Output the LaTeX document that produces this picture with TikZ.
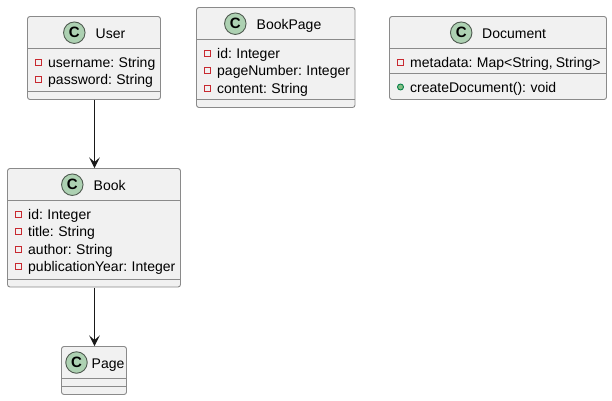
\documentclass[tikz,border=0pt]{standalone}
\usepackage{fontspec}
\setmainfont[WordSpace=0.8]{Liberation Sans}
\usetikzlibrary{arrows.meta}
\definecolor{boxfill}{HTML}{F1F1F1}
\definecolor{boxline}{HTML}{8A8A8A}
\definecolor{spotfill}{HTML}{ADD1B2}
\definecolor{spotline}{HTML}{4F5A50}
\definecolor{privred}{HTML}{C82930}
\definecolor{pubgreen}{HTML}{84BE84}
\definecolor{publine}{HTML}{038048}
\tikzset{
  classbox/.style={draw=boxline,fill=boxfill,line width=0.9pt,rounded corners=2.5pt,inner sep=0,outer sep=0,anchor=north west},
  divider/.style={draw=boxline,line width=0.9pt},
  spot/.style={circle,draw=spotline,fill=spotfill,line width=0.9pt,minimum size=21.5pt,inner sep=0,font=\fontsize{15}{15}\selectfont\bfseries},
  classname/.style={anchor=base west,inner sep=0,font=\fontsize{14}{14}\selectfont,text=black},
  member/.style={anchor=base west,inner sep=0,font=\fontsize{14}{14}\selectfont,text=black},
  privmark/.style={draw=privred,line width=1.1pt,minimum size=6.4pt,inner sep=0,fill=none},
  pubmark/.style={circle,draw=publine,fill=pubgreen,line width=0.9pt,minimum size=6pt,inner sep=0},
  assoc/.style={draw=black!90,line width=1pt,-{Stealth[length=10.5pt,width=10.5pt,inset=4.5pt]}}
}
% #1 name, #2 left, #3 top, #4 width, #5 height
\newcommand{\classframe}[5]{\node[classbox,minimum width=#4pt,minimum height=#5pt] (#1) at (#2,#3) {};}
\newcommand{\privrow}[5]{\node[privmark] (#1m) at (#2,#3+0.5) {};\node[member] (#1) at (#4,#3+5.2) {#5};}
\begin{document}
\begin{tikzpicture}[x=1pt,y=-1pt]
\useasboundingbox (0,0) rectangle (612,400);
\fill[white] (0,0) rectangle (612,400);
% User
\classframe{user}{27.5}{16.5}{133}{83}
\node[spot] (userspot) at (74.3,32.7) {C};
\node[classname] (username) at (95.5,38.2) {User};
\draw[divider] (27.5,48.5) -- (160.5,48.5);
\draw[divider] (27.5,91.5) -- (160.5,91.5);
\privrow{ua}{38.5}{62}{48}{username: String}
\privrow{ub}{38.5}{79}{48}{password: String}
% BookPage
\classframe{bookpage}{196.5}{7.5}{158.5}{100}
\node[spot] (bookpagespot) at (235.3,23.7) {C};
\node[classname] (bookpagename) at (256.5,29.2) {BookPage};
\draw[divider] (196.5,39.5) -- (355,39.5);
\draw[divider] (196.5,99.5) -- (355,99.5);
\privrow{pa}{207.5}{53}{217}{id: Integer}
\privrow{pb}{207.5}{70}{217}{pageNumber: Integer}
\privrow{pc}{207.5}{88}{217}{content: String}
% Document
\classframe{document}{389.5}{16.5}{217}{83}
\node[spot] (documentspot) at (461.2,32.7) {C};
\node[classname] (documentname) at (482,38.2) {Document};
\draw[divider] (389.5,48.5) -- (606.5,48.5);
\draw[divider] (389.5,73.5) -- (606.5,73.5);
\privrow{da}{400.5}{62}{410}{metadata: Map<String, String>}
\node[pubmark] (dbm) at (400.5,87) {};
\node[member] (db) at (410,92) {createDocument(): void};
% Book
\classframe{book}{7.5}{168.5}{173}{118.5}
\node[spot] (bookspot) at (72.3,184.7) {C};
\node[classname] (bookname) at (93.5,190.2) {Book};
\draw[divider] (7.5,200.5) -- (180.5,200.5);
\draw[divider] (7.5,279) -- (180.5,279);
\privrow{ba}{18.5}{214}{28}{id: Integer}
\privrow{bb}{18.5}{231}{28}{title: String}
\privrow{bc}{18.5}{249}{28}{author: String}
\privrow{bd}{18.5}{266}{28}{publicationYear: Integer}
% Page
\classframe{page}{61.5}{346.5}{65}{48}
\node[spot] (pagespot) at (76.5,362.5) {C};
\node[classname] (pagename) at (91.5,368.2) {Page};
\draw[divider] (61.5,378.5) -- (126.5,378.5);
\draw[divider] (61.5,386.5) -- (126.5,386.5);
% Connectors
\coordinate (userout) at (94.5,99.5);
\coordinate (bookin) at (94.5,168);
\coordinate (bookout) at (94.5,287.5);
\coordinate (pagein) at (94.5,346);
\draw[assoc] (userout) -- (bookin);
\draw[assoc] (bookout) -- (pagein);
\end{tikzpicture}
\end{document}
